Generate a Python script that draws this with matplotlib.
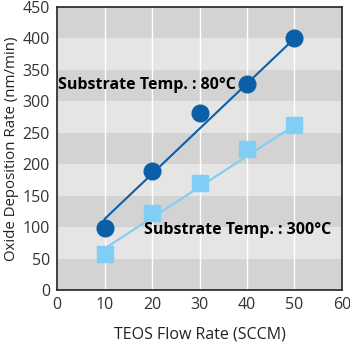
import matplotlib.pyplot as plt

# data
flow = [10, 20, 30, 40, 50]
rate_80 = [98, 190, 282, 328, 400]
rate_300 = [57, 123, 170, 225, 262]

fit_x = [10, 50]
fit_80 = [113, 400]
fit_300 = [66, 262]

dark_blue = '#0b5fa8'
light_blue = '#80cdf5'

plt.rcParams['font.family'] = ['Open Sans', 'DejaVu Sans']

fig = plt.figure(figsize=(3.5, 3.5), dpi=100)
ax = fig.add_axes([0.163, 0.171, 0.814, 0.809])

# alternating grey bands every 50
for i, y0 in enumerate(range(0, 450, 50)):
    ax.axhspan(y0, y0 + 50, color='#d3d3d3' if i % 2 == 0 else '#e5e5e5', lw=0, zorder=0)
for x in flow:
    ax.axvline(x, color='white', lw=1, zorder=1)

ax.plot(fit_x, fit_80, color=dark_blue, lw=1.5, zorder=2)
ax.plot(flow, rate_80, 'o', color=dark_blue, ms=12, zorder=3)
ax.plot(fit_x, fit_300, color=light_blue, lw=1.5, zorder=2)
ax.plot(flow, rate_300, 's', color=light_blue, ms=11, zorder=3)

ax.text(0.2, 326, 'Substrate Temp. : 80°C', fontsize=11.5, fontweight='bold', va='center', zorder=4)
ax.text(18.3, 95, 'Substrate Temp. : 300°C', fontsize=11.5, fontweight='bold', va='center', zorder=4)

ax.set_xlim(0, 60)
ax.set_ylim(0, 450)
ax.set_xticks(range(0, 61, 10))
ax.set_yticks(range(0, 451, 50))
ax.tick_params(length=0, labelsize=11.5, labelcolor='#333333', pad=5)
for s in ax.spines.values():
    s.set_linewidth(1.2)
    s.set_color('#222222')

ax.set_xlabel('TEOS Flow Rate (SCCM)', fontsize=11.5, color='#222222', labelpad=10)
ax.set_ylabel('Oxide Deposition Rate (nm/min)', fontsize=10.8, color='#222222', labelpad=3)

plt.savefig('out.png', dpi=100)
